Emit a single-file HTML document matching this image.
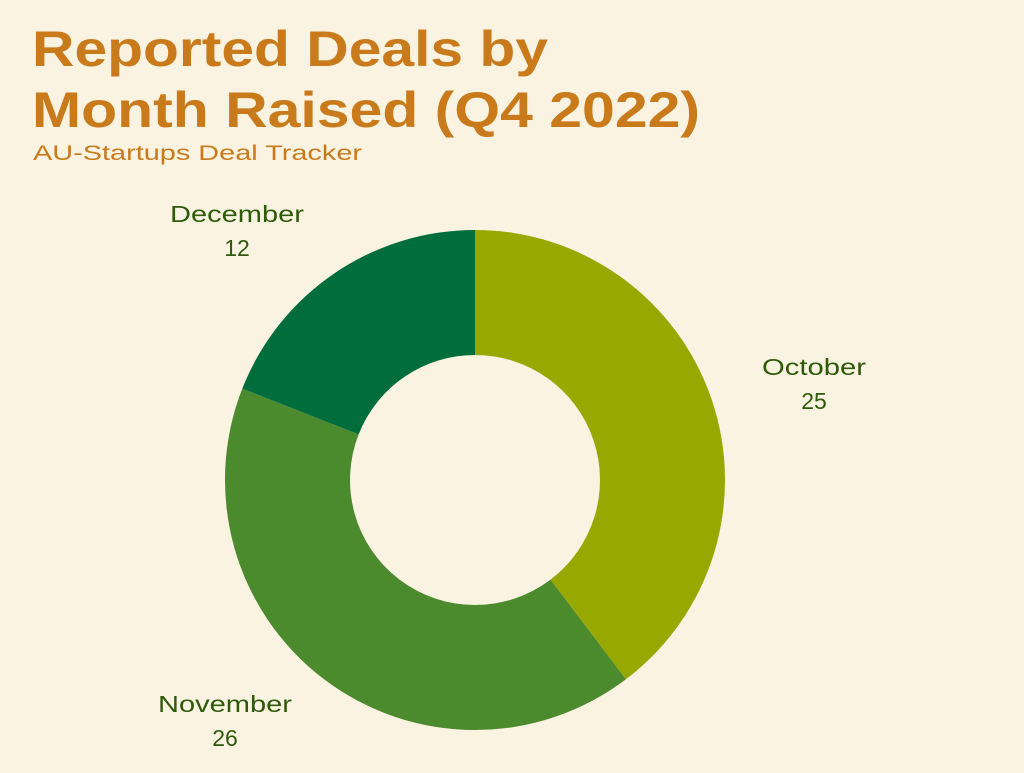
<!DOCTYPE html>
<html><head><meta charset="utf-8"><style>
body{margin:0;width:1024px;height:768px;background:#FAF3E1;overflow:hidden;font-family:"Liberation Sans",sans-serif}
</style></head><body>
<svg width="1024" height="768">
<rect width="1024" height="768" fill="#FAF3E1"/>
<text x="32" y="66" font-size="50" font-weight="bold" fill="#C97A1A" textLength="516" lengthAdjust="spacingAndGlyphs">Reported Deals by</text>
<text x="32" y="127" font-size="50" font-weight="bold" fill="#C97A1A" textLength="668" lengthAdjust="spacingAndGlyphs">Month Raised (Q4 2022)</text>
<text x="33" y="160" font-size="21" fill="#C97A1A" textLength="329" lengthAdjust="spacingAndGlyphs">AU-Startups Deal Tracker</text>
<g id="donut"></g>
</svg>
<script>
const categories=["October","November","December"];
const values=[25,26,12];
const colors=["#97A800","#4B8B2E","#006D3C"];
const labelPos=[[814,375],[225,712],[237,222]];
const labelW=[104,134,134];
const cx=475,cy=480,R=250,r=125;
const g=document.getElementById('donut');
const ns="http://www.w3.org/2000/svg";
const total=values.reduce((a,b)=>a+b,0);
let a0=0;
function pt(rad,a){return [cx+rad*Math.sin(a),cy-rad*Math.cos(a)];}
values.forEach((v,i)=>{
  const a1=a0+v/total*2*Math.PI;
  const large=(a1-a0)>Math.PI?1:0;
  const [x0,y0]=pt(R,a0),[x1,y1]=pt(R,a1),[x2,y2]=pt(r,a1),[x3,y3]=pt(r,a0);
  const p=document.createElementNS(ns,'path');
  p.setAttribute('d',`M${x0},${y0}A${R},${R} 0 ${large} 1 ${x1},${y1}L${x2},${y2}A${r},${r} 0 ${large} 0 ${x3},${y3}Z`);
  p.setAttribute('fill',colors[i]);
  
  
  g.appendChild(p);
  const [lx,ly]=labelPos[i];
  const t=document.createElementNS(ns,'text');
  t.setAttribute('text-anchor','middle');t.setAttribute('font-size','23');t.setAttribute('fill','#2F5A0A');
  t.setAttribute('x',lx);t.setAttribute('y',ly);
  t.setAttribute('textLength',labelW[i]);t.setAttribute('lengthAdjust','spacingAndGlyphs');
  t.textContent=categories[i];
  
  
  g.appendChild(t);
  const t2=document.createElementNS(ns,'text');
  t2.setAttribute('text-anchor','middle');t2.setAttribute('font-size','23');t2.setAttribute('fill','#2F5A0A');
  t2.setAttribute('x',lx);t2.setAttribute('y',ly+34);
  t2.textContent=v;
  
  
  g.appendChild(t2);
  a0=a1;
});
</script>
</body></html>
